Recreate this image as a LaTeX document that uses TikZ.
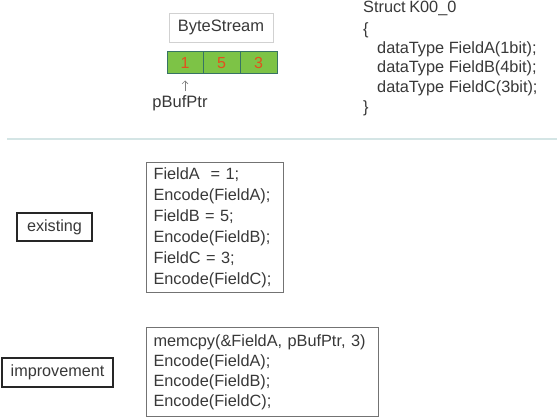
\documentclass[tikz,border=0pt]{standalone}
\usepackage{fontspec}
\setmainfont{Liberation Sans}
\usetikzlibrary{arrows.meta}
\definecolor{cellfill}{RGB}{125,195,70}
\definecolor{celledge}{RGB}{55,115,100}
\definecolor{digit}{RGB}{226,80,30}
\definecolor{rule}{RGB}{212,229,229}
\begin{document}
\begin{tikzpicture}[x=1pt,y=-1pt,
  txt/.style={text=black!78, inner sep=0pt},
  codebox/.style={draw=black!55, line width=1.1pt, anchor=north west, align=left,
    inner xsep=7pt, inner ysep=4pt, text=black!78},
  tag/.style={draw=black!85, line width=1.6pt, text=black!78, inner sep=0pt,
    font=\fontsize{16.2}{20}\selectfont},
  cell/.style={draw=celledge, line width=1pt, fill=cellfill,
    minimum height=22pt, inner sep=0pt, text=digit, font=\fontsize{16}{18}\selectfont},
  structln/.style={txt, anchor=west, font=\fontsize{16.3}{18}\selectfont}]
  \useasboundingbox (0,0) rectangle (557,420);

  % stream and pointer
  \node[draw=black!18, line width=0.8pt, minimum width=104pt, minimum height=29pt,
        inner sep=0pt, text=black!78, font=\fontsize{16.5}{18}\selectfont]
        (bs) at (221,27.5) {ByteStream};
  \node[cell, minimum width=36pt] (c1) at (185,63) {1};
  \node[cell, minimum width=37pt] (c2) at (221.5,63) {5};
  \node[cell, minimum width=37pt] (c3) at (258.5,63) {3};
  \node[txt, font=\fontsize{16.5}{18}\selectfont] (ptr) at (180,103) {pBufPtr};
  \draw[black!50, line width=0.6pt, -{Straight Barb[length=3pt,width=6pt]}]
    (ptr.north -| c1.south) ++(0,-4) -- ([yshift=-6pt]c1.south);

  % structure definition
  \node[structln] (s0) at (363,8) {Struct\hspace{-1pt} K00\_0};
  \node[structln] (s1) at (363,30) {\{};
  \node[structln] (s2) at (377,49) {dataType FieldA(1bit);};
  \node[structln] (s3) at (377,68.5) {dataType FieldB(4bit);};
  \node[structln] (s4) at (377,88.5) {dataType FieldC(3bit);};
  \node[structln] (s5) at (363,108) {\}};

  % separator
  \coordinate (sepL) at (7,138.5);
  \coordinate (sepR) at (557,138.5);
  \draw[color=rule, line width=2pt] (sepL) -- (sepR);

  % existing encoding
  \node[tag, minimum width=75pt, minimum height=28pt] (ex) at (54.5,227) {existing};
  \node[codebox, text width=123pt, minimum height=130pt,
        font=\fontsize{16.3}{21}\selectfont] (cb1) at (146,162)
    {FieldA\ \ = 1;\\Encode(FieldA);\\FieldB = 5;\\Encode(FieldB);\\FieldC = 3;\\Encode(FieldC);};

  % improved encoding
  \node[tag, minimum width=111pt, minimum height=29pt] (im) at (57.5,372.5) {improvement};
  \node[codebox, text width=218pt, inner xsep=7pt, minimum height=89pt,
        font=\fontsize{16.3}{20}\selectfont] (cb2) at (146,327)
    {memcpy(\&FieldA, pBufPtr, 3)\\Encode(FieldA);\\Encode(FieldB);\\Encode(FieldC);};
\end{tikzpicture}
\end{document}
